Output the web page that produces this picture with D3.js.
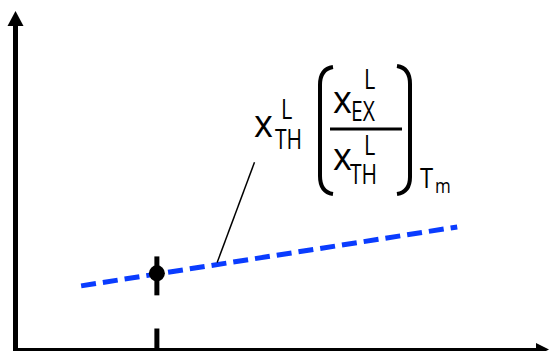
<!DOCTYPE html>
<html>
<head>
<meta charset="utf-8">
<script src="https://cdn.jsdelivr.net/npm/d3@7"></script>
<style>
  body { margin: 0; background: #fff; }
  svg { display: block; }
  text { font-family: "Open Sans", "Noto Sans", sans-serif; fill: #000; }
</style>
</head>
<body>
<svg id="chart-area" width="549" height="351"></svg>
<script>
// schematic values (arbitrary units, 0-100 on both axes)
var lineX = [12.3, 82.8];
var lineY = [18.8, 36.2];
var pointX = [26.5];
var pointY = [22.5];
var errLow = [16.0];
var errHigh = [27.5];
var tickX = [26.5];
var leaderX = [44.8, 37.8];
var leaderY = [55.3, 25.7];

var svgWidth = 549, svgHeight = 351;
var svg = d3.select('#chart-area');

var x = d3.scaleLinear().domain([0, 100]).range([15.5, 549]);
var y = d3.scaleLinear().domain([0, 100]).range([349.5, 11]);

// axes with arrow heads
var axisG = svg.append('g');
axisG.append('line')
  .attr('x1', x(0)).attr('x2', x(0))
  .attr('y1', svgHeight).attr('y2', y(100) + 14)
  .attr('stroke', '#000').attr('stroke-width', 5);
axisG.append('path')
  .attr('d', 'M' + x(0) + ',' + y(100) + 'L' + (x(0) - 8) + ',' + (y(100) + 15) + 'L' + (x(0) + 8) + ',' + (y(100) + 15) + 'Z')
  .attr('fill', '#000');

axisG.append('line')
  .attr('x1', 13).attr('x2', x(100) - 12)
  .attr('y1', y(0)).attr('y2', y(0))
  .attr('stroke', '#000').attr('stroke-width', 3);
axisG.append('path')
  .attr('d', 'M' + x(100) + ',' + y(0) + 'L' + (x(100) - 13) + ',' + (y(0) - 6.5) + 'L' + (x(100) - 13) + ',' + (y(0) + 6.5) + 'Z')
  .attr('fill', '#000');

// tick on x axis
svg.selectAll('.xtick').data(tickX).enter().append('line')
  .attr('class', 'xtick')
  .attr('x1', d => x(d)).attr('x2', d => x(d))
  .attr('y1', y(0)).attr('y2', y(0) - 21)
  .attr('stroke', '#000').attr('stroke-width', 5);

// dashed blue line
var pts = lineX.map((d, i) => [d, lineY[i]]);
svg.append('path')
  .datum(pts)
  .attr('d', d3.line().x(d => x(d[0])).y(d => y(d[1])))
  .attr('fill', 'none')
  .attr('stroke', '#0a3cff')
  .attr('stroke-width', 5)
  .attr('stroke-dasharray', '15,7');

// error bar and point
svg.selectAll('.err').data(pointX).enter().append('line')
  .attr('class', 'err')
  .attr('x1', d => x(d)).attr('x2', d => x(d))
  .attr('y1', (d, i) => y(errLow[i])).attr('y2', (d, i) => y(errHigh[i]))
  .attr('stroke', '#000').attr('stroke-width', 5);
svg.selectAll('.pt').data(pointX).enter().append('circle')
  .attr('class', 'pt')
  .attr('cx', d => x(d)).attr('cy', (d, i) => y(pointY[i]))
  .attr('r', 8).attr('fill', '#000');

// leader line to the label
svg.append('line')
  .attr('x1', x(leaderX[0])).attr('y1', y(leaderY[0]))
  .attr('x2', x(leaderX[1])).attr('y2', y(leaderY[1]))
  .attr('stroke', '#000').attr('stroke-width', 1.5);

// label: x^L_TH ( x^L_EX / x^L_TH )_Tm
var lab = svg.append('g');
function put(t, px, py, size, sx) {
  lab.append('text')
    .attr('transform', 'translate(' + px + ',' + py + ') scale(' + (sx || 1) + ',1)')
    .attr('font-size', size).text(t);
}
put('x', 254, 137, 38, 0.95);
put('L', 281, 119, 27, 0.8);
put('TH', 275, 149, 27, 0.78);

put('x', 333, 113, 38, 0.95);
put('L', 364, 89, 27, 0.8);
put('EX', 351, 121, 27, 0.78);
lab.append('line').attr('x1', 330).attr('x2', 402).attr('y1', 129).attr('y2', 129)
  .attr('stroke', '#000').attr('stroke-width', 3);
put('x', 333, 170, 38, 0.95);
put('L', 364, 155, 27, 0.8);
put('TH', 350, 184, 27, 0.78);

lab.append('path')
  .attr('d', 'M333,67 Q320,69 320,85 L320,176 Q320,192 333,194')
  .attr('fill', 'none').attr('stroke', '#000').attr('stroke-width', 4);
lab.append('path')
  .attr('d', 'M397,66 Q410,68 410,84 L410,177 Q410,192 397,194')
  .attr('fill', 'none').attr('stroke', '#000').attr('stroke-width', 4);

put('T', 420, 188, 28, 0.85);
put('m', 435, 193, 20, 0.85);
</script>
</body>
</html>
